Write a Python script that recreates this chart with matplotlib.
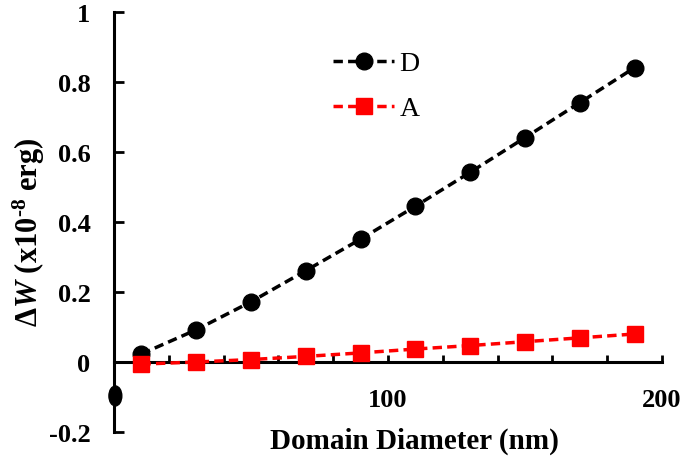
import numpy as np
import matplotlib
matplotlib.use("Agg")
import matplotlib.pyplot as plt
from matplotlib.patches import Ellipse
from matplotlib.ticker import MultipleLocator, FixedLocator

# Data
diameter = [10, 30, 50, 70, 90, 110, 130, 150, 170, 190]
dW_D = [0.023, 0.092, 0.172, 0.261, 0.351, 0.445, 0.542, 0.641, 0.741, 0.841]
dW_A = [-0.006, 0.000, 0.007, 0.016, 0.026, 0.037, 0.047, 0.058, 0.069, 0.080]
x_major = [0, 100, 200]
x_labels = ["", "100", "200"]
y_ticks = [-0.2, 0, 0.2, 0.4, 0.6, 0.8, 1.0]
y_labels = ["-0.2", "0", "0.2", "0.4", "0.6", "0.8", "1"]

plt.rcParams['font.family'] = ['Liberation Serif', 'DejaVu Serif']
plt.rcParams['mathtext.fontset'] = 'custom'
plt.rcParams['mathtext.rm'] = 'Liberation Serif:bold'
plt.rcParams['mathtext.bf'] = 'Liberation Serif:bold'
plt.rcParams['mathtext.it'] = 'Liberation Serif:italic:bold'

fig = plt.figure(figsize=(6.85, 4.6), dpi=100)
ax = fig.add_axes([114 / 685, 1 - 433 / 460, 548 / 685, 420 / 460])

lw = 2.5
ax.plot(diameter, dW_D, color='black', lw=lw, dashes=(2.7, 1.5),
        marker='o', markersize=12, label='D', clip_on=False, zorder=3)
ax.plot(diameter, dW_A, color='#ff0000', lw=lw, dashes=(2.7, 1.5),
        marker='s', markersize=12, label='A', clip_on=False, zorder=4)

ax.set_xlim(0, 200)
ax.set_ylim(-0.2, 1.0)

for s in ['top', 'right']:
    ax.spines[s].set_visible(False)
ax.spines['bottom'].set_position(('data', 0))
ax.spines['left'].set_linewidth(2.2)
ax.spines['bottom'].set_linewidth(2.2)

ax.xaxis.set_major_locator(FixedLocator(x_major))
ax.set_xticklabels(x_labels)
ax.xaxis.set_minor_locator(MultipleLocator(20))
ax.tick_params(axis='x', which='both', direction='in', length=5, width=2,
               pad=19, labelsize=19)
ax.set_yticks(y_ticks)
ax.set_yticklabels(y_labels)
ax.tick_params(axis='y', direction='in', length=7, width=2, pad=17,
               labelsize=19)
for t in ax.get_xticklabels() + ax.get_yticklabels():
    t.set_fontweight('bold')

# blurred "0" label at the origin of the x axis
ax.add_patch(Ellipse((0.5, -0.097), 4.7, 0.057, color='black',
                     clip_on=False, zorder=5))

ax.set_xlabel('Domain Diameter (nm)', fontsize=21, fontweight='bold',
              va='center')
ax.xaxis.set_label_coords(0.549, -0.02)
ax.set_ylabel('$\\Delta\\mathit{W}$ (x10$^{\u2010\\mathrm{8}}$ erg)',
              fontsize=22, fontweight='bold', va='center')
ax.yaxis.set_label_coords(-0.155, 0.479)

ax.legend(loc='upper left', bbox_to_anchor=(333 / 685, 1 - 52 / 460),
          bbox_transform=fig.transFigure, frameon=False, fontsize=20,
          handlelength=2.2, handletextpad=0.2, labelspacing=0.7,
          borderpad=0, borderaxespad=0)

fig.savefig('out.png', dpi=100)
